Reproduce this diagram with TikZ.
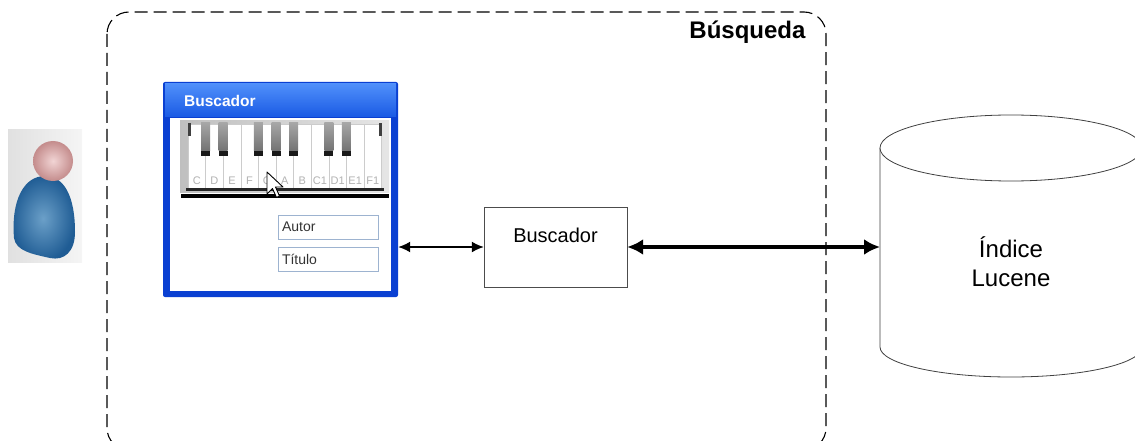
\documentclass[tikz,border=0pt]{standalone}
\usepackage{fontspec}
\setmainfont{Liberation Sans}
\usetikzlibrary{arrows.meta}

\definecolor{winblue}{HTML}{0A40D2}
\definecolor{bartop}{HTML}{4F8FFA}
\definecolor{barbot}{HTML}{1A5AE4}
\definecolor{campoborde}{HTML}{9DB3D0}
\definecolor{cuerpo}{HTML}{3A80B6}
\definecolor{cuerpoosc}{HTML}{1F5C94}
\definecolor{cabeza}{HTML}{E8B8B8}
\definecolor{cabezaosc}{HTML}{C48C8C}

\begin{document}
\begin{tikzpicture}[x=1pt,y=-1pt,
    caja/.style={draw=black!70, fill=white, minimum width=143pt, minimum height=80pt, inner sep=0pt},
    ventana/.style={fill=winblue, minimum width=235pt, minimum height=215pt, rounded corners=2pt, inner sep=0pt},
    campo/.style={draw=campoborde, line width=0.9pt, minimum height=24pt, text width=92pt, inner sep=4pt,
        align=left, font=\fontsize{14}{16}\selectfont, text=black!80},
    tecla/.style={fill=white, draw=black!20},
    nota/.style={font=\fontsize{11}{12}\selectfont, text=black!30, inner sep=0pt},
    flecha/.style={{Latex[length=12pt,width=11pt]}-{Latex[length=12pt,width=11pt]}, line width=1.6pt},
    flechagruesa/.style={{Latex[length=16pt,width=16pt]}-{Latex[length=16pt,width=16pt]}, line width=3.5pt},
    cilindro/.style={draw=black!75, line width=0.8pt, fill=white}]
    \useasboundingbox (0,0) rectangle (1135,441);

    % dashed frame of the search module
    \draw[black, line width=1.1pt, dash pattern=on 13pt off 6pt, rounded corners=22pt]
        (107,12) rectangle (826,450);
    \node[font=\bfseries\fontsize{24}{28}\selectfont, anchor=base east] (busqueda) at (809,39) {Búsqueda};

    % user icon
    \shade[left color=black!12, right color=black!4] (8,130) rectangle (82,262);
    \shade[inner color=cuerpo!75!white, outer color=cuerpoosc]
        (14,238) .. controls (11,200) and (24,176) .. (45,176)
        .. controls (64,176) and (75,196) .. (75,232)
        .. controls (75,252) and (64,261) .. (50,258)
        .. controls (32,254) and (16,251) .. (14,238) -- cycle;
    \shade[inner color=cabeza!60!white, outer color=cabezaosc] (53,161) circle (20pt);

    % search window
    \node[ventana] (ventana) at (280.5,189.5) {};
    \shade[top color=bartop, bottom color=barbot] (165,84) rectangle (396,117);
    \fill[white] (170,118) rectangle (391,291);
    \node[font=\bfseries\fontsize{15.5}{18}\selectfont, text=white, anchor=west, inner sep=0pt] (titulo) at (184,101) {Buscador};

    % keyboard
    \shade[left color=black!25, right color=black!10] (180,121) rectangle (389,192);
    \foreach \n [count=\i from 0] in {C,D,E,F,G,A,B,C1,D1,E1,F1} {
        \draw[tecla] (188+17.6*\i,124) rectangle ++(17.6,64);
        \node[nota] (nota\i) at (196.8+17.6*\i,181) {\n};
    }
    \fill[black!75] (188,123) rectangle (191,136);
    \fill[black!75] (379,123) rectangle (382,136);
    \foreach \k in {1,2,4,5,6,8,9} {
        \shade[top color=black!35, bottom color=black!55] (188+17.6*\k-4.5,123) rectangle ++(9,28);
        \fill[black!90] (188+17.6*\k-4.5,151) rectangle ++(9,5);
    }
    \fill[black!85] (186,188) rectangle (384,191);
    \fill[black] (181,194) rectangle (389,198);

    % mouse pointer
    \draw[line width=0.9pt, fill=white, line join=round]
        (267,172) -- (267,194) -- (272.5,188.5) -- (276.5,197.5) -- (279.5,196) -- (275.5,187) -- (283,187) -- cycle;

    % input fields
    \node[campo] (autor) at (328,227) {Autor};
    \node[campo] (titulo2) at (328,259) {Título};

    % search component
    \node[caja, label={[font=\fontsize{20}{24}\selectfont, yshift=12pt]center:Buscador}] (buscador) at (555.5,247) {};

    % Lucene index
    \draw[cilindro] (880,148) -- (880,347) arc[start angle=180, end angle=360, x radius=131pt, y radius=30pt] -- (1142,148);
    \draw[cilindro] (1011,148) ellipse [x radius=131pt, y radius=33pt];
    \node[font=\fontsize{24}{29}\selectfont, align=center] (indice) at (1011,262) {Índice\\Lucene};
    \coordinate (lucene) at (880,247);

    % connections
    \draw[flecha] (ventana.east |- buscador.west) -- (buscador.west);
    \draw[flechagruesa] (buscador.east) -- (lucene);
\end{tikzpicture}
\end{document}
